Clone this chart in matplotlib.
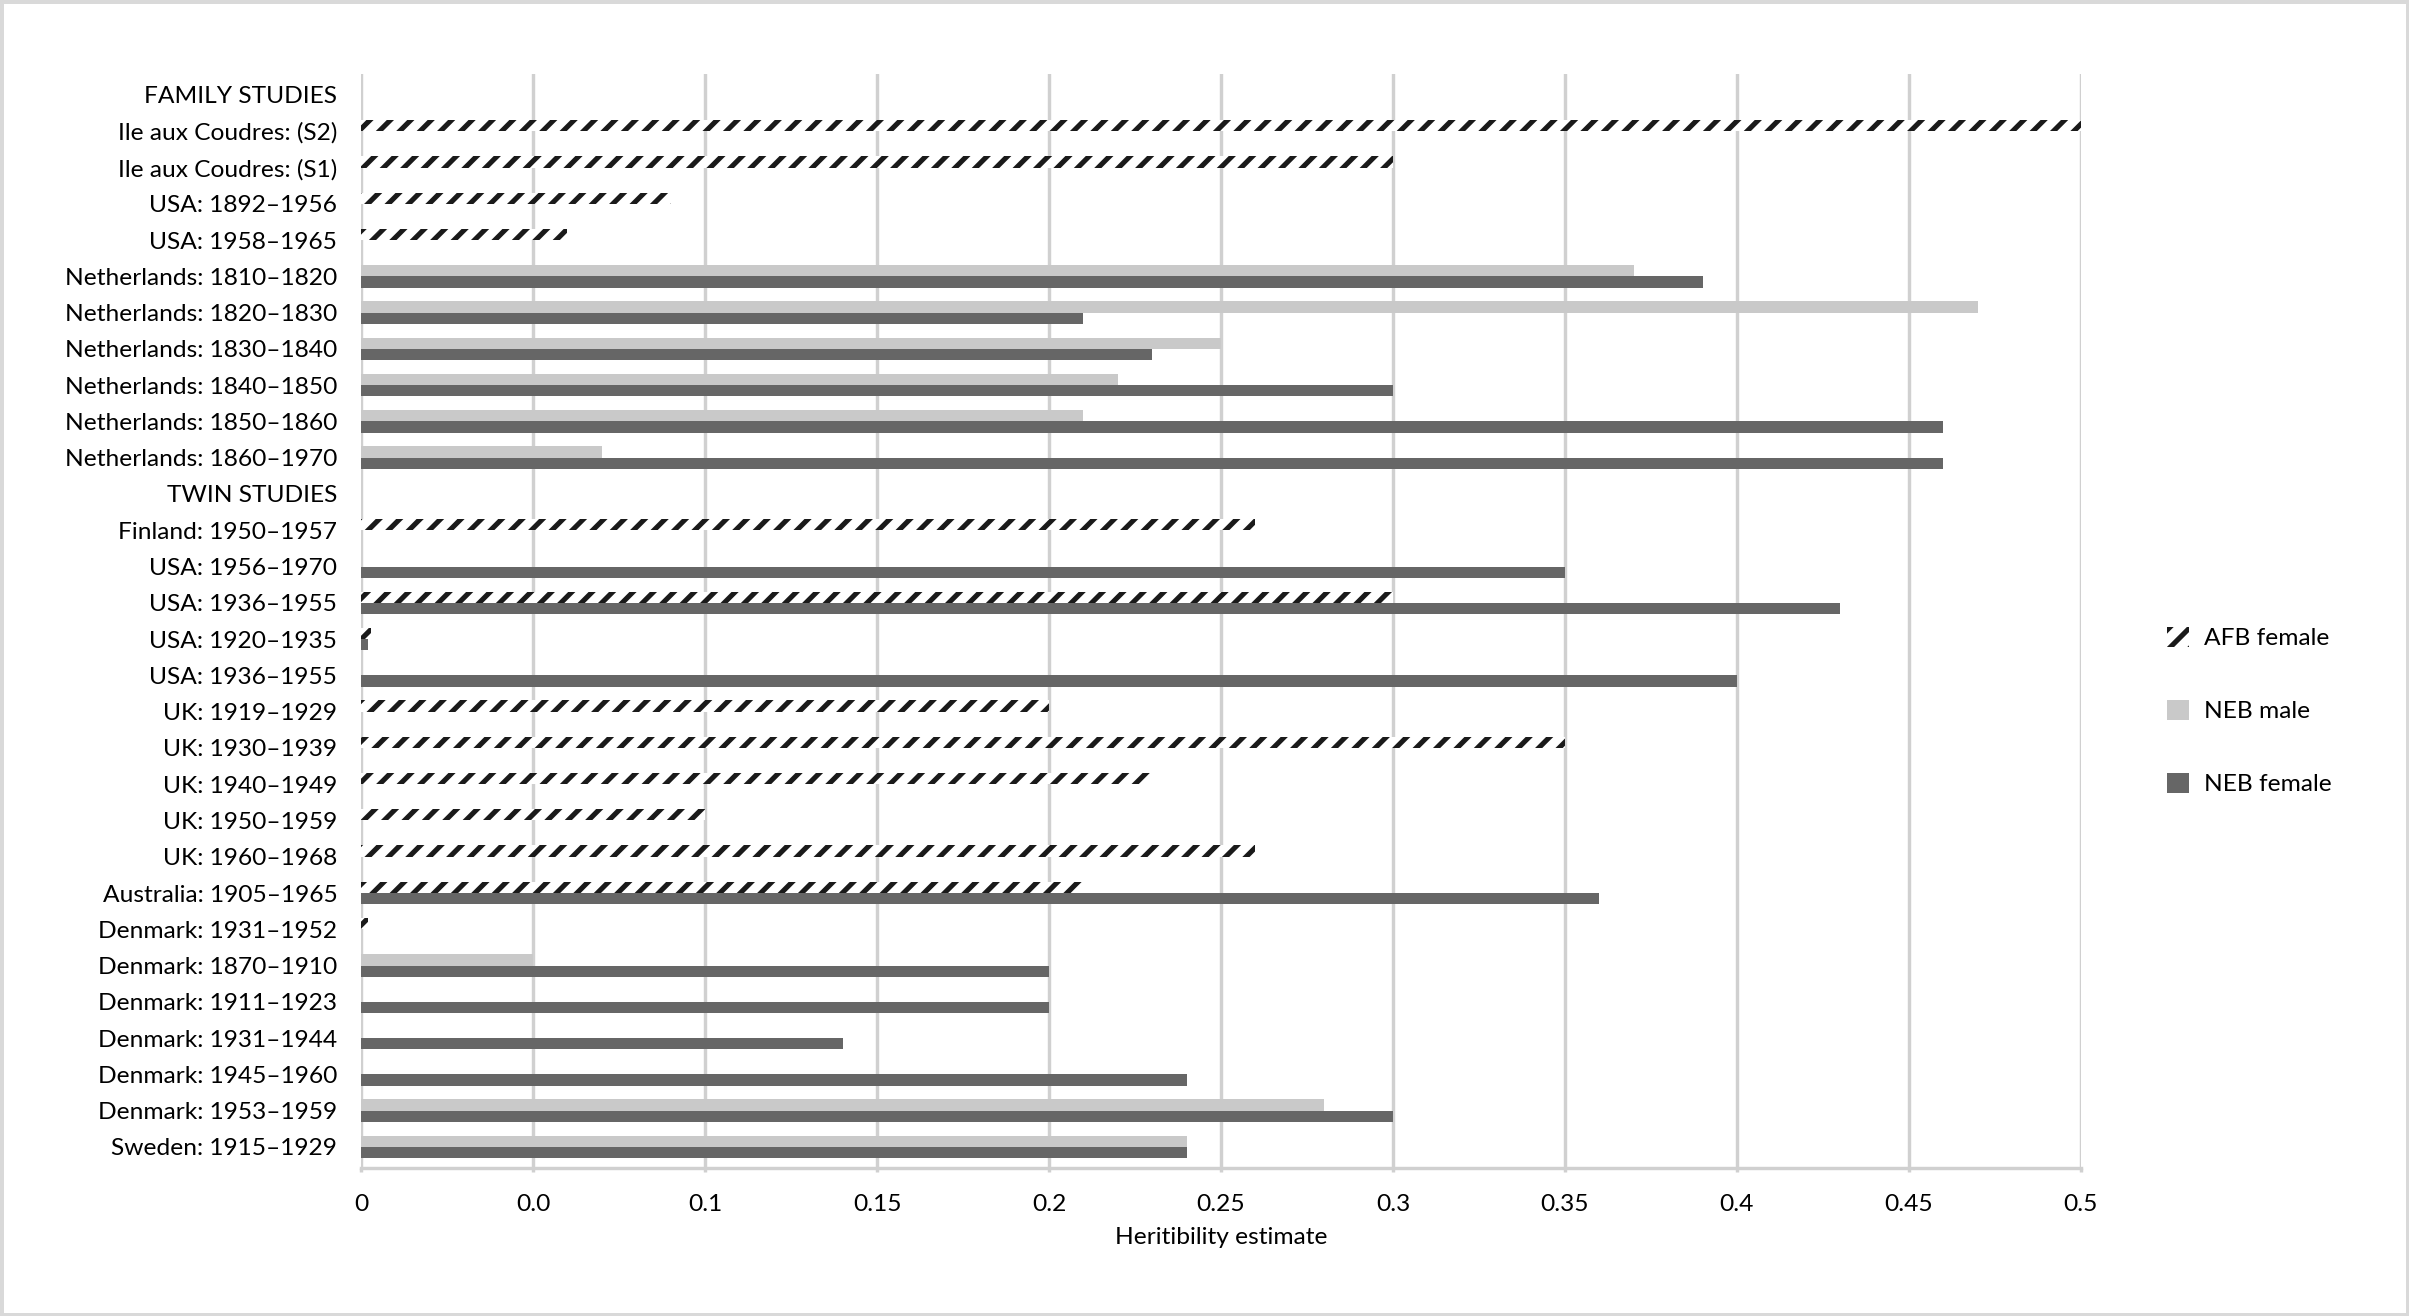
#!/usr/bin/env python3

import numpy as np
import matplotlib
matplotlib.use("Agg")
import matplotlib.pyplot as plt

# Data, top row first (0 = no bar)
studies = [
    "FAMILY STUDIES",
    "Ile aux Coudres: (S2)",
    "Ile aux Coudres: (S1)",
    "USA: 1892–1956",
    "USA: 1958–1965",
    "Netherlands: 1810–1820",
    "Netherlands: 1820–1830",
    "Netherlands: 1830–1840",
    "Netherlands: 1840–1850",
    "Netherlands: 1850–1860",
    "Netherlands: 1860–1970",
    "TWIN STUDIES",
    "Finland: 1950–1957",
    "USA: 1956–1970",
    "USA: 1936–1955",
    "USA: 1920–1935",
    "USA: 1936–1955",
    "UK: 1919–1929",
    "UK: 1930–1939",
    "UK: 1940–1949",
    "UK: 1950–1959",
    "UK: 1960–1968",
    "Australia: 1905–1965",
    "Denmark: 1931–1952",
    "Denmark: 1870–1910",
    "Denmark: 1911–1923",
    "Denmark: 1931–1944",
    "Denmark: 1945–1960",
    "Denmark: 1953–1959",
    "Sweden: 1915–1929",
]

afb_female = [
    0, 0.50, 0.30, 0.09, 0.06, 0, 0, 0, 0, 0, 0,
    0, 0.26, 0, 0.30, 0.003, 0, 0.20, 0.35, 0.23, 0.10, 0.26, 0.21,
    0.002, 0, 0, 0, 0, 0, 0,
]
neb_male = [
    0, 0, 0, 0, 0, 0.37, 0.47, 0.25, 0.22, 0.21, 0.07,
    0, 0, 0, 0, 0, 0, 0, 0, 0, 0, 0, 0,
    0, 0.05, 0, 0, 0, 0.28, 0.24,
]
neb_female = [
    0, 0, 0, 0, 0, 0.39, 0.21, 0.23, 0.30, 0.46, 0.46,
    0, 0, 0.35, 0.43, 0.002, 0.40, 0, 0, 0, 0, 0, 0.36,
    0, 0.20, 0.20, 0.14, 0.24, 0.30, 0.24,
]

x_ticks = [0, 0.05, 0.1, 0.15, 0.2, 0.25, 0.3, 0.35, 0.4, 0.45, 0.5]
x_tick_labels = ["0", "0.0", "0.1", "0.15", "0.2", "0.25", "0.3", "0.35", "0.4", "0.45", "0.5"]

LIGHT = "#c9c9c9"
DARK = "#666666"
GRID = "#d0d0d0"


def main():
    plt.rcParams["font.family"] = ["Lato", "DejaVu Sans"]
    plt.rcParams["hatch.linewidth"] = 1.5

    dpi = 245
    fig = plt.figure(figsize=(2409 / dpi, 1316 / dpi), dpi=dpi)
    fig.patch.set_edgecolor("#d9d9d9")
    fig.patch.set_linewidth(1.5)
    ax = fig.add_axes([0.1499, 0.1125, 0.8638 - 0.1499, 0.9438 - 0.1125])

    y = np.arange(len(studies))
    h = 0.31
    fs = 7.2

    ax.barh(y - h / 2, afb_female, height=h, color="white", edgecolor="#1a1a1a",
            linewidth=0, hatch="////", label="AFB female", zorder=3)
    ax.barh(y - h / 2, neb_male, height=h, color=LIGHT, linewidth=0,
            label="NEB male", zorder=3)
    ax.barh(y + h / 2, neb_female, height=h, color=DARK, linewidth=0,
            label="NEB female", zorder=3)

    ax.set_ylim(len(studies) - 1 + 0.58, -0.58)
    ax.set_xlim(0, 0.5)
    ax.set_yticks(y)
    ax.set_yticklabels(studies, fontsize=fs)
    ax.set_xticks(x_ticks)
    ax.set_xticklabels(x_tick_labels, fontsize=fs)

    ax.tick_params(axis="y", length=0, pad=7)
    ax.tick_params(axis="x", length=1.3, width=1.0, color=GRID, pad=6.5)

    for s in ["top", "right", "left"]:
        ax.spines[s].set_visible(False)
    ax.spines["bottom"].set_color(GRID)
    ax.spines["bottom"].set_linewidth(1.0)

    ax.grid(True, axis="x", color=GRID, linewidth=1.0, zorder=0)
    ax.set_axisbelow(True)

    ax.set_xlabel("Heritibility estimate", fontsize=fs, labelpad=3.5)

    fig.legend(loc="center left", bbox_to_anchor=(0.8995, 0.4597), frameon=False,
               fontsize=fs, labelspacing=2.05, handlelength=0.9, handleheight=0.9,
               handletextpad=0.6, borderpad=0, borderaxespad=0)

    fig.savefig("out.png", dpi=dpi)


if __name__ == "__main__":
    main()
